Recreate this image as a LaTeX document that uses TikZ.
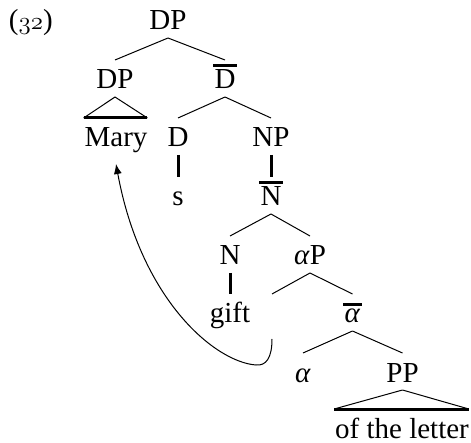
\documentclass[tikz,border=0pt]{standalone}
\usepackage{fontspec}
\setmainfont{Liberation Serif}
\usetikzlibrary{arrows.meta}
\newcommand\barred[1]{\setbox0\hbox{#1}\rlap{\kern-1.5pt\raisebox{\dimexpr\ht0+3.5pt\relax}{\rule{\dimexpr\wd0+3pt\relax}{2.8pt}}}\box0}
\newcommand\osnum[1]{{\usefont{OML}{cmm}{m}{it}#1}}
\tikzset{
  lab/.style={anchor=base, inner sep=0pt, outer sep=0pt, text height=29pt, text depth=8pt, font=\fontsize{29}{34}\selectfont},
  branch/.style={line width=1pt},
  thickline/.style={line width=3pt},
  move/.style={line width=1pt, -{Latex[length=10pt,width=8pt]}},
}
\begin{document}
\begin{tikzpicture}[x=1pt,y=-1pt]
\useasboundingbox (0,0) rectangle (471,443);
\node[lab, anchor=base west] (num) at (9,30) {(\osnum{32})};
\node[lab] (DP) at (168,30) {DP};
\node[lab] (DPl) at (115,89) {DP};
\node[lab] (Dbar) at (225,89) {\barred{D}};
\node[lab] (Mary) at (116,147) {Mary};
\node[lab] (D) at (178,147) {D};
\node[lab] (NP) at (271,147) {NP};
\node[lab] (s) at (178,206) {s};
\node[lab] (Nbar) at (271,206) {\barred{N}};
\node[lab] (N) at (230,265) {N};
\node[lab] (aP) at (310,265) {\textit{α}P};
\node[lab] (gift) at (230,323) {gift};
\node[lab] (spec) at (272,323) {};
\node[lab] (abar) at (352.5,323) {\barred{\textit{α}}};
\node[lab] (a) at (303,382) {\textit{α}};
\node[lab] (PP) at (402.5,382) {PP};
\node[lab] (ofl) at (402,438) {of the letter};
% branches
\draw[branch] (DP.south) -- (DPl.north);
\draw[branch] (DP.south) -- (Dbar.north);
\draw[branch] (DPl.south) -- ([xshift=-1pt]Mary.north west);
\draw[branch] (DPl.south) -- ([xshift=0pt]Mary.north east);
\draw[thickline] ([xshift=-1pt]Mary.north west) -- ([xshift=0pt]Mary.north east);
\draw[branch] (Dbar.south) -- (D.north);
\draw[branch] (Dbar.south) -- (NP.north);
\draw[thickline] (D.south) -- (s.north);
\draw[thickline] (NP.south) -- (Nbar.north);
\draw[branch] (Nbar.south) -- (N.north);
\draw[branch] (Nbar.south) -- (aP.north);
\draw[thickline] (N.south) -- (gift.north);
\draw[branch] (aP.south) -- (spec.north);
\draw[branch] (aP.south) -- (abar.north);
\draw[branch] (abar.south) -- (a.north);
\draw[branch] (abar.south) -- (PP.north);
\draw[branch] (PP.south) -- ([xshift=-1pt]ofl.north west);
\draw[branch] (PP.south) -- ([xshift=0pt]ofl.north east);
\draw[thickline] ([xshift=-1pt]ofl.north west) -- ([xshift=0pt]ofl.north east);
% movement arrow
\coordinate (tr) at ([yshift=-8pt]spec.south);
\coordinate (bend) at (256,365);
\coordinate (tgt) at ([yshift=-9pt]Mary.south);
\draw[move] (tr) .. controls +(0,19) and +(10,1) .. (bend) .. controls +(-41,-3) and +(25,136) .. (tgt);
\end{tikzpicture}
\end{document}
